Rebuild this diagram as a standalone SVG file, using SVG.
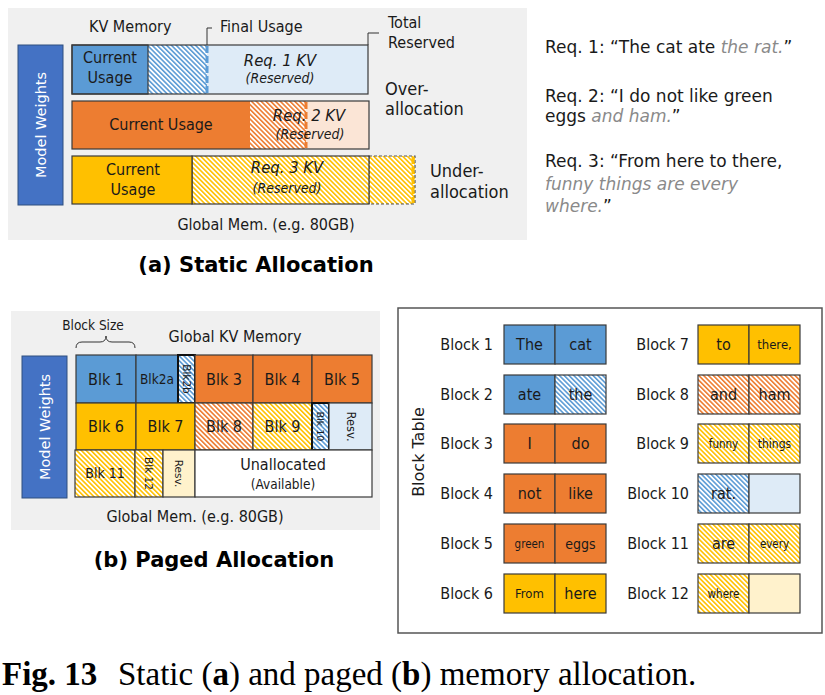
<svg xmlns="http://www.w3.org/2000/svg" width="825" height="695" viewBox="0 0 825 695">
<defs>
<pattern id="hb" width="3.4" height="3.4" patternUnits="userSpaceOnUse" patternTransform="rotate(-45)"><rect width="3.4" height="3.4" fill="#fff"/><rect width="1.6" height="3.4" fill="#5B9BD5"/></pattern>
<pattern id="ho" width="3.4" height="3.4" patternUnits="userSpaceOnUse" patternTransform="rotate(-45)"><rect width="3.4" height="3.4" fill="#fff"/><rect width="1.6" height="3.4" fill="#ED7D31"/></pattern>
<pattern id="hy" width="3.4" height="3.4" patternUnits="userSpaceOnUse" patternTransform="rotate(-45)"><rect width="3.4" height="3.4" fill="#fff"/><rect width="1.6" height="3.4" fill="#FFC000"/></pattern>
</defs>
<style>
text{font-family:"DejaVu Sans Condensed","DejaVu Sans",sans-serif;fill:#1a1a1a}
.r{font-family:"DejaVu Sans",sans-serif}
.m{text-anchor:middle}
.e{text-anchor:end}
.i{font-style:italic}
.g{fill:#8a8a8a;font-style:italic}
.w{fill:#fff}
.bg{fill:#F0F0F0}
.mw{fill:#4472C4;stroke:#2F4F7F;stroke-width:1}
.bl{fill:#5B9BD5}
.or{fill:#ED7D31}
.ye{fill:#FFC000}
.lb{fill:#DEEBF7}
.lo{fill:#FBE5D6}
.ly{fill:#FFF2CC}
.wh{fill:#fff}
.hb{fill:url(#hb)}
.ho{fill:url(#ho)}
.hy{fill:url(#hy)}
.k{stroke:#3a3a3a;stroke-width:1.2}
.kk{stroke:#111;stroke-width:2}
.ol{fill:none;stroke:#3a3a3a;stroke-width:1.2}
.dot{stroke:#555;stroke-width:1.2;stroke-dasharray:3 2}
.ln{fill:none;stroke:#333;stroke-width:1}
.t{font-size:16px}
.cap{font-family:"Liberation Serif",serif;font-size:33px;fill:#000}
.b{font-weight:bold}
.title{font-family:"DejaVu Sans",sans-serif;font-weight:bold;font-size:21px;fill:#000}
.req{font-family:"DejaVu Sans",sans-serif;font-size:17px}
</style>

<!-- (a) Static allocation -->
<g id="panel-a">
<rect class="bg" x="8" y="8" width="519" height="232"/>
</g>
<g id="model-weights-a">
<rect class="mw" x="18" y="45" width="45" height="160"/>
<text class="r m w" font-size="14.5" transform="translate(41,125) rotate(-90)" y="5">Model Weights</text>
</g>
<text x="89" y="32" font-size="16">KV Memory</text>
<text x="220" y="32" font-size="16">Final Usage</text>
<text x="388" y="28" font-size="16">Total</text>
<text x="388" y="48" font-size="16">Reserved</text>

<g id="req1-row">
<rect class="lb" x="72" y="45" width="296" height="49"/>
<rect class="hb" x="148" y="45" width="59" height="49"/>
<rect class="bl k" x="72" y="45" width="76" height="49"/>
<line x1="207" y1="46" x2="207" y2="93" stroke="#5B9BD5" stroke-width="3" stroke-dasharray="7 3"/>
<rect class="ol" x="72" y="45" width="296" height="49"/>
<text class="m" x="110" y="63" font-size="16">Current</text>
<text class="m" x="110" y="83" font-size="16">Usage</text>
<text class="m i" x="280" y="66" font-size="16.5">Req. 1 KV</text>
<text class="m i" x="280" y="83" font-size="14">(Reserved)</text>
</g>

<g id="req2-row">
<rect class="lo" x="72" y="101" width="297" height="48"/>
<rect class="or" x="72" y="101" width="178" height="48"/>
<rect class="ho" x="250" y="101" width="56" height="48"/>
<line x1="306" y1="102" x2="306" y2="148" stroke="#ED7D31" stroke-width="3" stroke-dasharray="7 3"/>
<rect class="ol" x="72" y="101" width="297" height="48"/>
<text class="m" x="161" y="130" font-size="16">Current Usage</text>
<text class="m i" x="309" y="121" font-size="16.5">Req. 2 KV</text>
<text class="m i" x="310" y="139" font-size="14">(Reserved)</text>
</g>

<g id="req3-row">
<rect class="hy dot" x="369" y="156" width="46" height="48"/>
<line x1="413" y1="157" x2="413" y2="203" stroke="#FFC000" stroke-width="3" stroke-dasharray="7 3"/>
<rect class="hy k" x="192" y="156" width="177" height="48"/>
<rect class="ye k" x="72" y="156" width="120" height="48"/>
<text class="m" x="133" y="175" font-size="16">Current</text>
<text class="m" x="133" y="195" font-size="16">Usage</text>
<text class="m i" x="287" y="173" font-size="16.5">Req. 3 KV</text>
<text class="m i" x="287" y="193" font-size="14">(Reserved)</text>
</g>

<text x="385" y="95" font-size="18">Over-</text>
<text x="385" y="115" font-size="18">allocation</text>
<text x="430" y="177" font-size="18">Under-</text>
<text x="430" y="198" font-size="18">allocation</text>
<text class="m" x="266" y="230" font-size="16">Global Mem. (e.g. 80GB)</text>
<text class="title m" x="256" y="272">(a) Static Allocation</text>

<g id="requests">
<text class="req" x="545" y="53">Req. 1: “The cat ate <tspan class="g">the rat.</tspan>”</text>
<text class="req" x="545" y="102">Req. 2: “I do not like green</text>
<text class="req" x="545" y="122">eggs <tspan class="g">and ham.</tspan>”</text>
<text class="req" x="545" y="167">Req. 3: “From here to there,</text>
<text class="req g" x="545" y="190">funny things are every</text>
<text class="req" x="545" y="212"><tspan class="g">where.</tspan>”</text>
</g>

<!-- (b) Paged allocation -->
<g id="panel-b">
<rect class="bg" x="11" y="311" width="369" height="219"/>
</g>
<g id="model-weights-b">
<rect class="mw" x="22" y="356" width="45" height="142"/>
<text class="r m w" font-size="14.5" transform="translate(45,427) rotate(-90)" y="5">Model Weights</text>
</g>
<text class="m" x="93" y="330" font-size="13.5">Block Size</text>
<text class="m" x="235" y="342" font-size="16">Global KV Memory</text>

<g id="blk1"><rect class="bl k" x="76" y="355" width="60" height="48"/><text class="m t" x="106" y="385">Blk 1</text></g>
<g id="blk2a"><rect class="bl k" x="136" y="355" width="42" height="48"/><text class="m" x="157" y="384" font-size="13.5">Blk2a</text></g>
<g id="blk2b"><rect class="hb kk" x="178" y="355" width="17" height="48"/><text class="r m" font-size="10.5" transform="translate(186.5,379) rotate(90)" y="4">Blk2b</text></g>
<g id="blk3"><rect class="or k" x="195" y="355" width="58" height="48"/><text class="m t" x="224" y="385">Blk 3</text></g>
<g id="blk4"><rect class="or k" x="253" y="355" width="59" height="48"/><text class="m t" x="282.5" y="385">Blk 4</text></g>
<g id="blk5"><rect class="or k" x="312" y="355" width="60" height="48"/><text class="m t" x="342" y="385">Blk 5</text></g>

<g id="blk6"><rect class="ye k" x="76" y="403" width="60" height="47"/><text class="m t" x="106" y="432">Blk 6</text></g>
<g id="blk7"><rect class="ye k" x="136" y="403" width="59" height="47"/><text class="m t" x="165.5" y="432">Blk 7</text></g>
<g id="blk8"><rect class="ho k" x="195" y="403" width="58" height="47"/><text class="m t" x="224" y="432">Blk 8</text></g>
<g id="blk9"><rect class="hy k" x="253" y="403" width="59" height="47"/><text class="m t" x="282.5" y="432">Blk 9</text></g>
<g id="blk10"><rect class="hb kk" x="312" y="403" width="17" height="47"/><text class="r m" font-size="9.5" transform="translate(320.5,426.5) rotate(90)" y="3.5">Blk 10</text></g>
<g id="resv1"><rect class="lb k" x="329" y="403" width="43" height="47"/><text class="r m" font-size="11.5" transform="translate(350.5,426.5) rotate(90)" y="4">Resv.</text></g>

<g id="blk11"><rect class="hy k" x="75" y="450" width="60" height="47"/><text class="m" x="105" y="478" font-size="14">Blk 11</text></g>
<g id="blk12"><rect class="hy k" x="135" y="450" width="28" height="47"/><text class="r m" font-size="10.5" transform="translate(149,473.5) rotate(90)" y="4">Blk 12</text></g>
<g id="resv2"><rect class="ly k" x="163" y="450" width="32" height="47"/><text class="r m" font-size="10.5" transform="translate(179,473.5) rotate(90)" y="4">Resv.</text></g>
<g id="unallocated"><rect class="wh k" x="195" y="450" width="177" height="47"/><text class="m" x="283" y="470" font-size="16">Unallocated</text><text class="m" x="283" y="489" font-size="13.5">(Available)</text></g>

<text class="m" x="195" y="522" font-size="16">Global Mem. (e.g. 80GB)</text>
<text class="title m" x="214" y="567">(b) Paged Allocation</text>

<!-- Block table -->
<g id="block-table">
<rect x="398" y="308" width="424" height="325" fill="#fff" stroke="#555" stroke-width="1.5"/>
<text class="r m" font-size="16" transform="translate(418,452) rotate(-90)" y="6">Block Table</text>
</g>

<g id="block1"><text class="e t" x="493" y="350">Block 1</text><rect class="bl k" x="504" y="325" width="51" height="39"/><rect class="bl k" x="555" y="325" width="51" height="39"/><text class="m t" x="529.5" y="350">The</text><text class="m t" x="580.5" y="350">cat</text></g>
<g id="block2"><text class="e t" x="493" y="400">Block 2</text><rect class="bl k" x="504" y="375" width="51" height="39"/><rect class="hb k" x="555" y="375" width="51" height="39"/><text class="m t" x="529.5" y="400">ate</text><text class="m t" x="580.5" y="400">the</text></g>
<g id="block3"><text class="e t" x="493" y="449">Block 3</text><rect class="or k" x="504" y="424" width="51" height="39"/><rect class="or k" x="555" y="424" width="51" height="39"/><text class="m t" x="529.5" y="449">I</text><text class="m t" x="580.5" y="449">do</text></g>
<g id="block4"><text class="e t" x="493" y="499">Block 4</text><rect class="or k" x="504" y="474" width="51" height="39"/><rect class="or k" x="555" y="474" width="51" height="39"/><text class="m t" x="529.5" y="499">not</text><text class="m t" x="580.5" y="499">like</text></g>
<g id="block5"><text class="e t" x="493" y="549">Block 5</text><rect class="or k" x="504" y="524" width="51" height="39"/><rect class="or k" x="555" y="524" width="51" height="39"/><text class="m" x="529.5" y="548" font-size="11.5">green</text><text class="m" x="580.5" y="549" font-size="14">eggs</text></g>
<g id="block6"><text class="e t" x="493" y="599">Block 6</text><rect class="ye k" x="504" y="574" width="51" height="39"/><rect class="ye k" x="555" y="574" width="51" height="39"/><text class="m" x="529.5" y="598" font-size="13">From</text><text class="m t" x="580.5" y="599">here</text></g>

<g id="block7"><text class="e t" x="689" y="350">Block 7</text><rect class="ye k" x="698" y="325" width="51" height="39"/><rect class="ye k" x="749" y="325" width="51" height="39"/><text class="m t" x="723.5" y="350">to</text><text class="m" x="774.5" y="349" font-size="13">there,</text></g>
<g id="block8"><text class="e t" x="689" y="400">Block 8</text><rect class="ho k" x="698" y="375" width="51" height="39"/><rect class="ho k" x="749" y="375" width="51" height="39"/><text class="m t" x="723.5" y="400">and</text><text class="m t" x="774.5" y="400">ham</text></g>
<g id="block9"><text class="e t" x="689" y="449">Block 9</text><rect class="hy k" x="698" y="424" width="51" height="39"/><rect class="hy k" x="749" y="424" width="51" height="39"/><text class="m" x="723.5" y="448" font-size="11.5">funny</text><text class="m" x="774.5" y="448" font-size="12">things</text></g>
<g id="block10"><text class="e t" x="689" y="499">Block 10</text><rect class="hb k" x="698" y="474" width="51" height="39"/><rect class="lb k" x="749" y="474" width="51" height="39"/><text class="m t" x="723.5" y="499">rat.</text></g>
<g id="block11"><text class="e t" x="689" y="549">Block 11</text><rect class="hy k" x="698" y="524" width="51" height="39"/><rect class="hy k" x="749" y="524" width="51" height="39"/><text class="m t" x="723.5" y="549">are</text><text class="m" x="774.5" y="548" font-size="11.5">every</text></g>
<g id="block12"><text class="e t" x="689" y="599">Block 12</text><rect class="hy k" x="698" y="574" width="51" height="39"/><rect class="ly k" x="749" y="574" width="51" height="39"/><text class="m" x="723.5" y="598" font-size="11.5">where</text></g>

<g id="connectors">
<polyline class="ln" points="212,28 207,28 207,45"/>
<polyline class="ln" points="379,33 368,33 368,45"/>
<path class="ln" d="M76,348 Q76,342 82,342 L100,342 Q106,342 106,336 Q106,342 112,342 L129,342 Q135,342 135,348"/>
</g>

<text class="cap" y="685"><tspan class="b" x="2">Fig. 13</tspan><tspan x="118">Static (</tspan><tspan class="b">a</tspan><tspan>) and paged (</tspan><tspan class="b">b</tspan><tspan>) memory allocation.</tspan></text>
</svg>
